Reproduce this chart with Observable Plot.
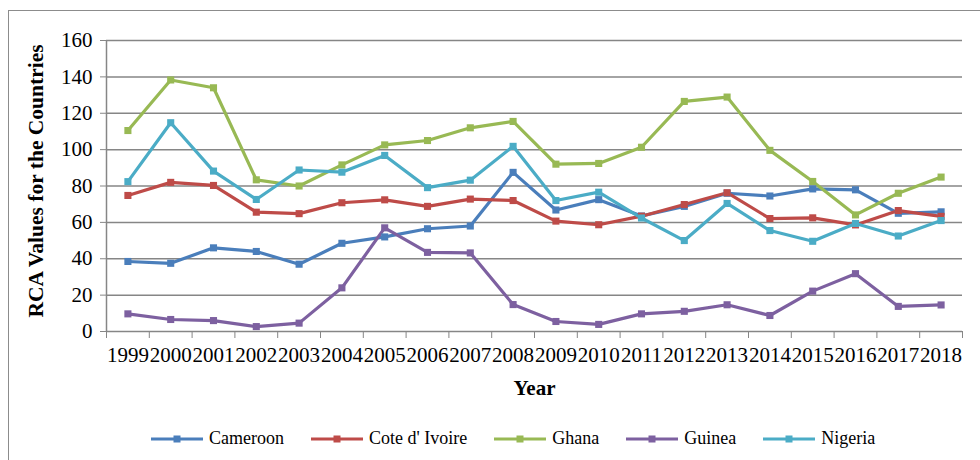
<!DOCTYPE html>
<html>
<head>
<meta charset="utf-8">
<script src="https://cdn.jsdelivr.net/npm/d3@7"></script>
<script src="https://cdn.jsdelivr.net/npm/@observablehq/plot@0.6"></script>
<style>
  html, body { margin: 0; padding: 0; background: #fff; }
  body { width: 980px; height: 460px; overflow: hidden; position: relative; font-family: "Liberation Serif", "Times New Roman", serif; }
  #frame { position: absolute; left: 8px; top: 10px; width: 1000px; height: 500px; border: 1.5px solid #8c8c8c; pointer-events: none; }
  #chart { position: absolute; left: 0; top: 0; }
  #legend { position: absolute; left: 150px; top: 428px; display: flex; gap: 26px; font-size: 18px; color: #000; }
  .item { display: flex; align-items: center; gap: 5px; }
</style>
</head>
<body>
<div id="chart"></div>
<div id="legend"></div>
<div id="frame"></div>
<script>
const years = [1999, 2000, 2001, 2002, 2003, 2004, 2005, 2006, 2007, 2008, 2009, 2010, 2011, 2012, 2013, 2014, 2015, 2016, 2017, 2018];
const countries = ["Cameroon", "Cote d' Ivoire", "Ghana", "Guinea", "Nigeria"];
const colors = ["#4A7EBB", "#BE4B48", "#98B954", "#7D60A0", "#4BACC6"];
const cameroon = [38.5, 37.5, 46, 44, 37, 48.5, 52, 56.5, 58, 87.5, 66.8, 72.5, 63.5, 68.8, 76, 74.5, 78.4, 77.9, 65, 65.8];
const coteDIvoire = [74.8, 82, 80.3, 65.6, 64.8, 70.8, 72.4, 68.8, 72.8, 72, 60.7, 58.7, 63.4, 69.8, 76.3, 62.1, 62.5, 58.6, 66.5, 63.3];
const ghana = [110.5, 138.3, 134, 83.4, 80, 91.6, 102.6, 105, 112, 115.5, 92, 92.4, 101.3, 126.5, 128.9, 99.6, 82.5, 64.1, 76, 84.9];
const guinea = [9.7, 6.6, 6, 2.7, 4.6, 24, 57, 43.5, 43.2, 14.8, 5.5, 3.9, 9.7, 11.1, 14.7, 8.8, 22.2, 31.8, 13.8, 14.6];
const nigeria = [82.4, 114.8, 88.2, 72.6, 88.8, 87.6, 96.8, 79.1, 83.2, 101.8, 72, 76.6, 62.4, 50, 70.4, 55.5, 49.6, 59.4, 52.5, 61];
const yTicks = [0, 20, 40, 60, 80, 100, 120, 140, 160];

const series = [cameroon, coteDIvoire, ghana, guinea, nigeria];
const data = [];
countries.forEach((c, i) => years.forEach((y, j) => data.push({country: c, year: y, value: series[i][j]})));
const bounds = years.map(y => y - 0.5).concat([years[years.length - 1] + 0.5]);
const xDomain = [bounds[0], bounds[bounds.length - 1]];

const gray = "#868686";
const plot = Plot.plot({
  width: 980,
  height: 420,
  marginLeft: 106,
  marginRight: 18,
  marginTop: 40,
  marginBottom: 89,
  style: {fontFamily: "'Liberation Serif', 'Times New Roman', serif", background: "#fff", color: "#000"},
  x: {domain: xDomain, axis: null},
  y: {domain: [0, 160], axis: null},
  color: {domain: countries, range: colors},
  marks: [
    Plot.gridY(yTicks.filter(d => d > 0), {stroke: gray, strokeOpacity: 1, strokeWidth: 1.5}),
    Plot.axisY({ticks: yTicks, tickSize: 6, tickPadding: 8, stroke: gray, fontSize: 21, tickFormat: d => String(d), label: null}),
    Plot.ruleX([xDomain[0]], {y1: 0, y2: 160, stroke: gray, strokeWidth: 1.5}),
    Plot.ruleY([0], {stroke: gray, strokeWidth: 1.5}),
    Plot.axisX({ticks: bounds, tickSize: 7, tickFormat: () => "", stroke: gray, label: null}),
    Plot.axisX({ticks: years, tickSize: 0, tickPadding: 16, fontSize: 21, tickFormat: d => String(d), label: null}),
    Plot.line(data, {x: "year", y: "value", z: "country", stroke: "country", strokeWidth: 3.2}),
    Plot.dot(data, {x: "year", y: "value", fill: "country", symbol: "square", r: 4}),
    Plot.text(["Year"], {frameAnchor: "bottom", dy: 57, fontSize: 21, fontWeight: "bold", lineAnchor: "middle"}),
    Plot.text(["RCA Values for the Countries"], {frameAnchor: "left", dx: -70, dy: -5, rotate: -90, textAnchor: "middle", fontSize: 21.5, fontWeight: "bold", lineAnchor: "middle"})
  ]
});
document.getElementById("chart").appendChild(plot);

const legend = document.getElementById("legend");
countries.forEach((c, i) => {
  const item = document.createElement("div");
  item.className = "item";
  item.innerHTML = `<svg width="54" height="10"><line x1="1" x2="53" y1="5" y2="5" stroke="${colors[i]}" stroke-width="3.2"/><rect x="23.5" y="1.5" width="7" height="7" fill="${colors[i]}"/></svg><span>${c}</span>`;
  legend.appendChild(item);
});
</script>
</body>
</html>
